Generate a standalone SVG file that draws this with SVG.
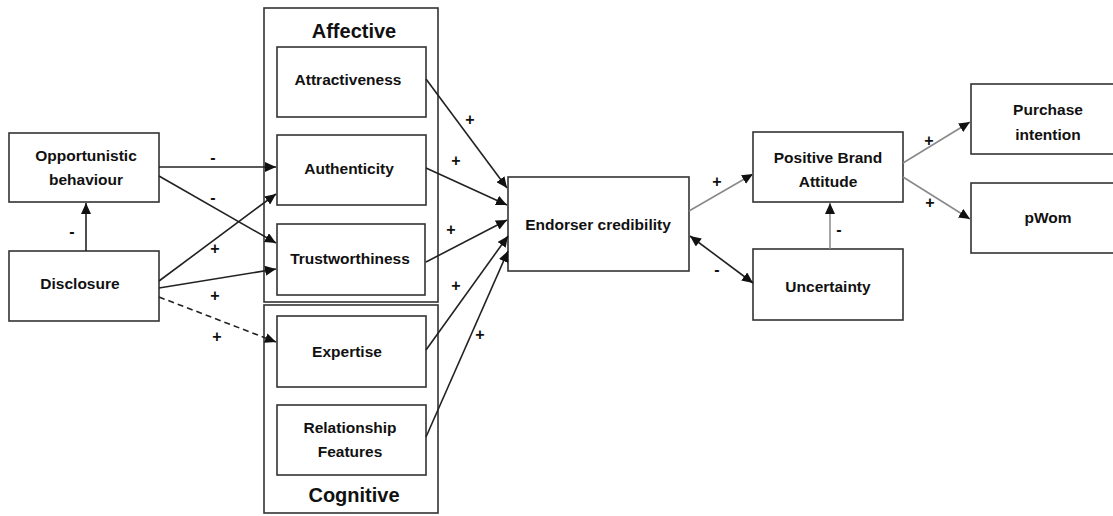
<svg xmlns="http://www.w3.org/2000/svg" width="1113" height="516" viewBox="0 0 1113 516">
<style>
.box{fill:#fff;stroke:#333;stroke-width:1.6}
.outer{fill:none;stroke:#333;stroke-width:1.6}
.t{font-family:"Liberation Sans",Arial,sans-serif;font-weight:bold;font-size:15.5px;fill:#111;text-anchor:middle}
.h{font-family:"Liberation Sans",Arial,sans-serif;font-weight:bold;font-size:20px;fill:#111;text-anchor:middle}
.l{font-family:"Liberation Sans",Arial,sans-serif;font-weight:bold;font-size:16px;fill:#111;text-anchor:middle}
.c{fill:none;stroke:#222;stroke-width:1.6}
.g{fill:none;stroke:#888;stroke-width:1.5}
.d{stroke-dasharray:6,4}
</style>
<defs>
<marker id="a" markerUnits="userSpaceOnUse" markerWidth="12" markerHeight="10" refX="11" refY="5" orient="auto"><path d="M0,0 L11,5 L0,10 z" fill="#111"/></marker>
<marker id="as" markerUnits="userSpaceOnUse" markerWidth="12" markerHeight="10" refX="0" refY="5" orient="auto"><path d="M11,0 L0,5 L11,10 z" fill="#111"/></marker>
</defs>
<g id="affective-group"><rect class="outer" x="264" y="8" width="174" height="294"/><text class="h" x="354" y="38">Affective</text></g>
<g id="cognitive-group"><rect class="outer" x="264" y="305" width="174" height="208"/><text class="h" x="354" y="502">Cognitive</text></g>
<g id="opportunistic"><rect class="box" x="9" y="133" width="150" height="69"/><text class="t" x="86" y="161">Opportunistic</text><text class="t" x="86" y="185">behaviour</text></g>
<g id="disclosure"><rect class="box" x="9" y="251" width="150" height="70"/><text class="t" x="80" y="289">Disclosure</text></g>
<g id="attractiveness"><rect class="box" x="277" y="47" width="149" height="70"/><text class="t" x="348" y="85">Attractiveness</text></g>
<g id="authenticity"><rect class="box" x="277" y="135" width="149" height="70"/><text class="t" x="349" y="174">Authenticity</text></g>
<g id="trustworthiness"><rect class="box" x="277" y="224" width="148" height="71"/><text class="t" x="350" y="264">Trustworthiness</text></g>
<g id="expertise"><rect class="box" x="277" y="316" width="149" height="71"/><text class="t" x="347" y="357">Expertise</text></g>
<g id="relationship"><rect class="box" x="277" y="405" width="149" height="70"/><text class="t" x="350" y="433">Relationship</text><text class="t" x="350" y="457">Features</text></g>
<g id="endorser"><rect class="box" x="508" y="177" width="181" height="94"/><text class="t" x="598" y="230">Endorser credibility</text></g>
<g id="brand-attitude"><rect class="box" x="753" y="132" width="150" height="70"/><text class="t" x="828" y="163">Positive Brand</text><text class="t" x="828" y="187">Attitude</text></g>
<g id="uncertainty"><rect class="box" x="753" y="249" width="150" height="71"/><text class="t" x="828" y="292">Uncertainty</text></g>
<g id="purchase"><rect class="box" x="971" y="84" width="160" height="70"/><text class="t" x="1048" y="115">Purchase</text><text class="t" x="1048" y="140">intention</text></g>
<g id="pwom"><rect class="box" x="971" y="183" width="160" height="70"/><text class="t" x="1048" y="223">pWom</text></g>
<g id="connectors">
<line class="c" x1="86" y1="251" x2="86" y2="203" marker-end="url(#a)"/>
<line class="c" x1="159" y1="167" x2="276" y2="167" marker-end="url(#a)"/>
<line class="c" x1="159" y1="176" x2="276" y2="243" marker-end="url(#a)"/>
<line class="c" x1="159" y1="281" x2="276" y2="194" marker-end="url(#a)"/>
<line class="c" x1="159" y1="288" x2="276" y2="269" marker-end="url(#a)"/>
<line class="c d" x1="159" y1="297" x2="276" y2="342" marker-end="url(#a)"/>
<line class="c" x1="426" y1="79" x2="507" y2="188" marker-end="url(#a)"/>
<line class="c" x1="426" y1="168" x2="507" y2="205" marker-end="url(#a)"/>
<line class="c" x1="426" y1="262" x2="507" y2="220" marker-end="url(#a)"/>
<line class="c" x1="426" y1="350" x2="508" y2="236" marker-end="url(#a)"/>
<line class="c" x1="426" y1="437" x2="508" y2="251" marker-end="url(#a)"/>
<line class="g" x1="689" y1="211" x2="753" y2="174" marker-end="url(#a)"/>
<line class="c" x1="690" y1="236" x2="753" y2="283" marker-start="url(#as)" marker-end="url(#a)"/>
<line class="g" x1="830" y1="249" x2="830" y2="203" marker-end="url(#a)"/>
<line class="g" x1="903" y1="163" x2="970" y2="122" marker-end="url(#a)"/>
<line class="g" x1="903" y1="177" x2="970" y2="219" marker-end="url(#a)"/>
<text class="l" x="72" y="237">-</text>
<text class="l" x="213" y="163">-</text>
<text class="l" x="213" y="203">-</text>
<text class="l" x="215" y="254">+</text>
<text class="l" x="215" y="301">+</text>
<text class="l" x="217" y="342">+</text>
<text class="l" x="470" y="125">+</text>
<text class="l" x="456" y="166">+</text>
<text class="l" x="451" y="235">+</text>
<text class="l" x="456" y="291">+</text>
<text class="l" x="480" y="340">+</text>
<text class="l" x="717" y="187">+</text>
<text class="l" x="717" y="275">-</text>
<text class="l" x="839" y="235">-</text>
<text class="l" x="929" y="146">+</text>
<text class="l" x="930" y="208">+</text>
</g>
</svg>
